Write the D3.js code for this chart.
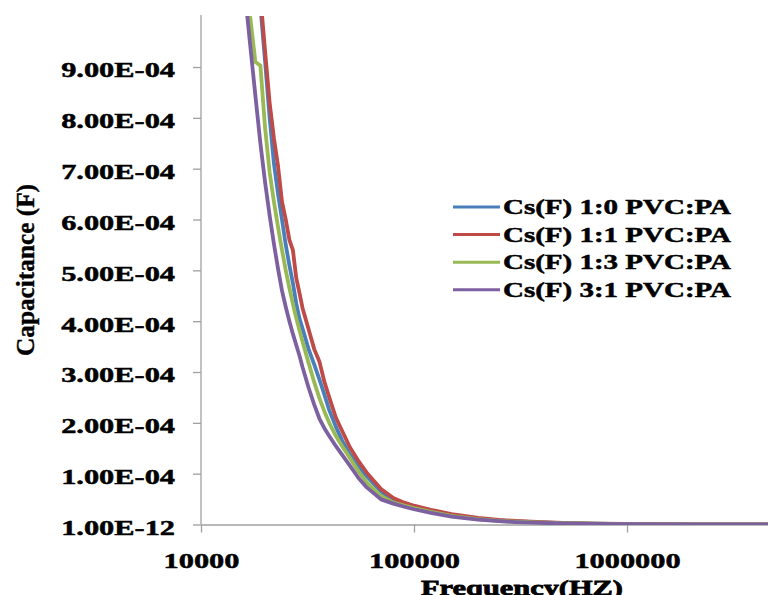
<!DOCTYPE html>
<html><head><meta charset="utf-8">
<script src="https://cdn.jsdelivr.net/npm/d3@7"></script>
<style>
body{margin:0;background:#fff;}
text{font-family:"Liberation Serif","Times New Roman",Tinos,serif;font-weight:bold;fill:#000;}
</style>
</head><body>
<svg id="c" width="768" height="595"></svg>
<script>
// Frequency (Hz)
const frequencies = [15000,16000,17000,18000,19000,20000,21000,22000,23000,24000,25000,26000,27000,28000,29000,30000,32000,34000,36000,38000,40000,43000,46000,50000,55000,60000,70000,80000,90000,100000,120000,150000,200000,250000,300000,400000,500000,700000,1000000,2000000,5000000];
// Capacitance values in units of 1e-4 F
const cs_1_0 = [16.5,14.5,12.8,11.4,10.2,9.1,8.0,7.1,6.5,6.0,5.5,5.1,4.75,4.35,4.05,3.85,3.45,3.15,2.85,2.55,2.25,1.92,1.65,1.38,1.14,0.95,0.65,0.47,0.39,0.33,0.26,0.18,0.115,0.08,0.06,0.04,0.027,0.016,0.009,0.004,0.002];
const cs_1_1 = [17.0,14.9,13.1,11.6,10.4,9.3,8.3,7.6,7.05,6.35,6.0,5.6,5.4,4.85,4.55,4.25,3.84,3.45,3.2,2.8,2.5,2.1,1.84,1.52,1.24,1.02,0.70,0.52,0.43,0.37,0.29,0.205,0.13,0.092,0.07,0.045,0.03,0.018,0.01,0.004,0.002];
const cs_1_3 = [13.0,11.35,10.0,9.1,9.03,7.8,6.93,6.35,5.85,5.4,5.0,4.65,4.34,4.06,3.82,3.59,3.18,2.8,2.48,2.22,2.0,1.74,1.54,1.31,1.04,0.83,0.56,0.43,0.37,0.325,0.25,0.17,0.105,0.072,0.055,0.036,0.025,0.015,0.008,0.003,0.0015];
const cs_3_1 = [12.0,10.56,9.45,8.44,7.5,6.73,6.08,5.52,5.03,4.6,4.28,4.0,3.75,3.53,3.32,3.09,2.69,2.36,2.08,1.89,1.74,1.54,1.37,1.16,0.91,0.73,0.495,0.41,0.35,0.30,0.23,0.155,0.094,0.065,0.048,0.03,0.02,0.012,0.007,0.003,0.0015];
const valueUnit = 1e-4;

const seriesNames = ["Cs(F) 1:0 PVC:PA","Cs(F) 1:1 PVC:PA","Cs(F) 1:3 PVC:PA","Cs(F) 3:1 PVC:PA"];
const seriesValues = [cs_1_0, cs_1_1, cs_1_3, cs_3_1];
const seriesColors = ["#4a7ebb","#be4b48","#98b954","#7d60a0"];

const yTickValues = [0,1e-4,2e-4,3e-4,4e-4,5e-4,6e-4,7e-4,8e-4,9e-4];
const yTickLabels = ["1.00E-12","1.00E-04","2.00E-04","3.00E-04","4.00E-04","5.00E-04","6.00E-04","7.00E-04","8.00E-04","9.00E-04"];
const xTickValues = [1e4,1e5,1e6];
const xTickLabels = ["10000","100000","1000000"];

const STRETCH = 1.38;
const FONT = '"Liberation Serif","Times New Roman",Tinos,serif';
function stretch(sel, k){
  sel.each(function(){
    const w = this.getComputedTextLength();
    this.setAttribute("textLength", w*k);
    this.setAttribute("lengthAdjust","spacingAndGlyphs");
  });
}

const svg = d3.select("#c");
const x = d3.scaleLog().domain([1e4,1e7]).range([201,840]);
const y = d3.scaleLinear().domain([0,1e-3]).range([524.5,16.2]);

svg.append("defs").append("clipPath").attr("id","plot")
  .append("rect").attr("x",201).attr("y",16).attr("width",640).attr("height",509);

// axes
const axisColor = "#a0a0a0";
const gy = svg.append("g").attr("transform","translate(201,0)")
  .call(d3.axisLeft(y).tickValues(yTickValues).tickFormat((d,i)=>yTickLabels[i]).tickSize(8).tickSizeOuter(0).tickPadding(18));
gy.attr("font-family",null).attr("font-size",null);
gy.select(".domain").attr("stroke",axisColor).attr("stroke-width",1.3)
  .attr("d","M0,15V524.5");
gy.selectAll(".tick line").attr("stroke",axisColor).attr("stroke-width",1.3);
gy.selectAll(".tick text").attr("font-size",22).attr("dy","0.45em")
  .style("font-family",FONT).style("font-weight","bold").attr("fill","#000")
  .attr("stroke","#000").attr("stroke-width",0.5);
stretch(gy.selectAll(".tick text"), STRETCH);

const gx = svg.append("g").attr("transform","translate(0,524.5)")
  .call(d3.axisBottom(x).tickValues(xTickValues).tickFormat((d,i)=>xTickLabels[i]).tickSize(8).tickSizeOuter(0).tickPadding(20));
gx.attr("font-family",null).attr("font-size",null);
gx.select(".domain").attr("stroke",axisColor).attr("stroke-width",1.3);
gx.selectAll(".tick line").attr("stroke",axisColor).attr("stroke-width",1.3);
gx.selectAll(".tick text").attr("font-size",22)
  .style("font-family",FONT).style("font-weight","bold").attr("fill","#000")
  .attr("stroke","#000").attr("stroke-width",0.5);
stretch(gx.selectAll(".tick text"), STRETCH);

// lines
const line = d3.line().x(d=>x(d[0])).y(d=>y(d[1]*valueUnit));
const gl = svg.append("g").attr("clip-path","url(#plot)");
seriesValues.forEach((vals,i)=>{
  gl.append("path")
    .datum(frequencies.map((f,j)=>[f,vals[j]]))
    .attr("d",line)
    .attr("fill","none")
    .attr("stroke",seriesColors[i])
    .attr("stroke-width",3.8)
    .attr("stroke-linejoin","round");
});

// legend
const lg = svg.append("g");
seriesNames.forEach((n,i)=>{
  const cy = 207 + i*27.6;
  lg.append("line").attr("x1",453).attr("x2",500).attr("y1",cy).attr("y2",cy)
    .attr("stroke",seriesColors[i]).attr("stroke-width",3);
  lg.append("text").attr("x",503).attr("y",cy+7).attr("font-size",21)
    .attr("stroke","#000").attr("stroke-width",0.5).text(n);
});
stretch(lg.selectAll("text"), STRETCH);

// titles
const tx = svg.append("text").attr("x",522).attr("y",595).attr("text-anchor","middle")
  .attr("font-size",22).attr("stroke","#000").attr("stroke-width",0.8).text("Frequency(HZ)");
stretch(tx, STRETCH);
const ty = svg.append("text").attr("transform","translate(34,270) rotate(-90)")
  .attr("text-anchor","middle").attr("font-size",26).attr("stroke","#000").attr("stroke-width",0.4)
  .text("Capacitance (F)");
ty.attr("textLength",172).attr("lengthAdjust","spacingAndGlyphs");
</script>
</body></html>
